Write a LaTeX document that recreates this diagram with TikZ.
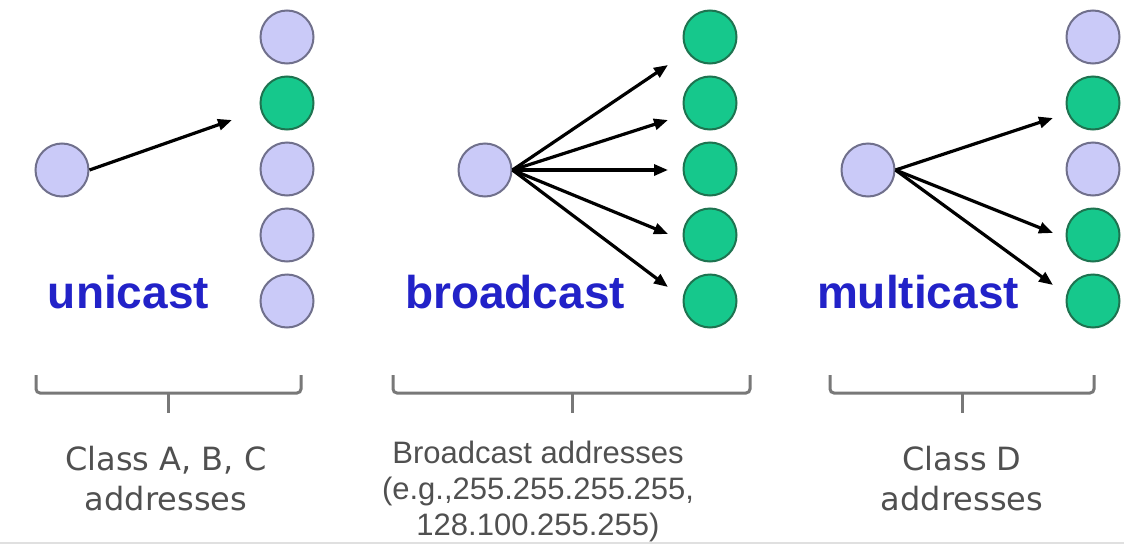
\documentclass[tikz,border=0pt]{standalone}
\usepackage{fontspec}
\setmainfont{Liberation Sans}
\newfontfamily\dejavu{DejaVu Sans}
\usetikzlibrary{arrows.meta}
\definecolor{lavfill}{RGB}{202,202,248}
\definecolor{lavborder}{RGB}{112,112,140}
\definecolor{grnfill}{RGB}{22,200,140}
\definecolor{grnborder}{RGB}{30,115,80}
\definecolor{castblue}{RGB}{34,34,200}
\definecolor{bracegray}{RGB}{120,120,120}
\definecolor{notegray}{RGB}{80,80,80}
\tikzset{
  hostA/.style={circle, draw=lavborder, fill=lavfill, line width=2pt, minimum size=53pt, inner sep=0pt},
  hostG/.style={circle, draw=grnborder, fill=grnfill, line width=2pt, minimum size=53pt, inner sep=0pt},
  castarrow/.style={-{Triangle[length=14pt,width=11pt]}, line width=3.2pt, black},
  castlabel/.style={text=castblue, font=\fontsize{46}{50}\selectfont\bfseries, anchor=base, inner sep=0pt},
  bracket/.style={draw=bracegray, line width=3pt, rounded corners=4pt},
  notegeo/.style={text=notegray, align=center, anchor=north, inner sep=0pt, font=\dejavu\fontsize{32}{40}\selectfont},
  notearial/.style={text=notegray, align=center, anchor=north, inner sep=0pt, font=\fontsize{31}{36}\selectfont}
}
\begin{document}
\begin{tikzpicture}[x=1pt, y=-1pt]
\useasboundingbox (0,0) rectangle (1124,549);
\draw[line width=2pt, draw=black!12] (0,543) -- (1124,543);

% ---------- unicast ----------
\node[hostA] (us) at (62,170) {};
\node[hostA] (u1) at (287,37) {};
\node[hostG] (u2) at (287,103) {};
\node[hostA] (u3) at (287,169) {};
\node[hostA] (u4) at (287,235) {};
\node[hostA] (u5) at (287,301) {};
\coordinate (ut) at (232,120);
\draw[castarrow] (us.east) -- (ut);
\node[castlabel] (ulab) at (128.5,308) {unicast};

% ---------- broadcast ----------
\node[hostA] (bs) at (485,170) {};
\node[hostG] (b1) at (710,37) {};
\node[hostG] (b2) at (710,103) {};
\node[hostG] (b3) at (710,169) {};
\node[hostG] (b4) at (710,235) {};
\node[hostG] (b5) at (710,301) {};
\coordinate (bt1) at (668,65);
\coordinate (bt2) at (668,120);
\coordinate (bt3) at (668,170);
\coordinate (bt4) at (668,234);
\coordinate (bt5) at (668,287);
\foreach \t in {bt1,bt2,bt3,bt4,bt5} \draw[castarrow] (bs.east) -- (\t);
\node[castlabel] (blab) at (515,308) {broadcast};

% ---------- multicast ----------
\node[hostA] (ms) at (868,170) {};
\node[hostA] (m1) at (1093,37) {};
\node[hostG] (m2) at (1093,103) {};
\node[hostA] (m3) at (1093,169) {};
\node[hostG] (m4) at (1093,235) {};
\node[hostG] (m5) at (1093,301) {};
\coordinate (mt1) at (1053,118);
\coordinate (mt2) at (1053,233);
\coordinate (mt3) at (1053,285);
\foreach \t in {mt1,mt2,mt3} \draw[castarrow] (ms.east) -- (\t);
\node[castlabel] (mlab) at (918,308) {multicast};

% ---------- brackets ----------
\draw[bracket] (36,375) -- (36,393) -- (301,393) -- (301,375);
\draw[bracegray, line width=3pt] (168,393) -- (168,413);
\draw[bracket] (393,375) -- (393,393) -- (750,393) -- (750,375);
\draw[bracegray, line width=3pt] (572,393) -- (572,413);
\draw[bracket] (830,375) -- (830,393) -- (1094,393) -- (1094,375);
\draw[bracegray, line width=3pt] (962,393) -- (962,413);

% ---------- notes ----------
\node[notegeo] (na) at (166,446) {Class A, B, C\\addresses};
\node[notearial] (nb) at (538,441) {Broadcast addresses\\(e.g.,255.255.255.255,\\128.100.255.255)};
\node[notegeo] (nd) at (962,446) {Class D\\addresses};
\end{tikzpicture}
\end{document}
